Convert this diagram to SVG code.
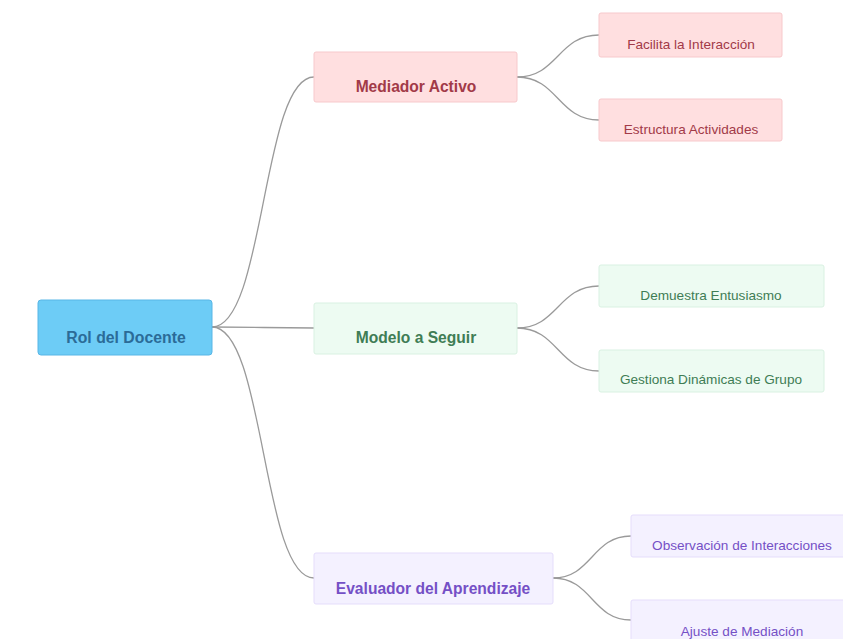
<svg xmlns="http://www.w3.org/2000/svg" width="843" height="639" viewBox="0 0 843 639">
<style>
.bg{fill:#ffffff}
.edge{fill:none;stroke:#9a9a9a;stroke-width:1.3}
.root rect{fill:#6dccf6;stroke:#58b6e6;stroke-width:1}
.root text{fill:#2b6b98;font:bold 15.8px "Liberation Sans",Arial,sans-serif;text-anchor:middle}
.red rect{fill:#ffdfe0;stroke:#f7c9cc;stroke-width:1}
.red text{fill:#a23a48;text-anchor:middle;font-family:"Liberation Sans",Arial,sans-serif}
.green rect{fill:#edfbf2;stroke:#d9f1e2;stroke-width:1}
.green text{fill:#3f7d55;text-anchor:middle;font-family:"Liberation Sans",Arial,sans-serif}
.purple rect{fill:#f4f1ff;stroke:#e5ddfb;stroke-width:1}
.purple text{fill:#7450c6;text-anchor:middle;font-family:"Liberation Sans",Arial,sans-serif}
.main text{font-size:15.6px;font-weight:bold}
.leaf text{font-size:13.6px}
</style>
<rect class="bg" x="0" y="0" width="843" height="639"/>
<g id="connectors">
<path class="edge" d="M212,327 C265,327 262,77 314,77"/>
<path class="edge" d="M212,327 C265,327 262,328 314,328"/>
<path class="edge" d="M212,327 C265,327 262,578 314,578"/>
<path class="edge" d="M517,77 C558,77 558,35 599,35"/>
<path class="edge" d="M517,77 C558,77 558,120 599,120"/>
<path class="edge" d="M517,328 C558,328 558,286 599,286"/>
<path class="edge" d="M517,328 C558,328 558,371 599,371"/>
<path class="edge" d="M553,578 C592,578 592,536 631,536"/>
<path class="edge" d="M553,578 C592,578 592,620 631,620"/>
</g>
<g id="root" class="root"><rect x="38" y="300" width="174" height="55" rx="3"/><text x="126" y="343">Rol del Docente</text></g>
<g id="mediador" class="red main"><rect x="314" y="52" width="203" height="50" rx="2"/><text x="416" y="92">Mediador Activo</text></g>
<g id="facilita" class="red leaf"><rect x="599" y="13" width="183" height="44" rx="2"/><text x="691" y="49">Facilita la Interacción</text></g>
<g id="estructura" class="red leaf"><rect x="599" y="99" width="183" height="42" rx="2"/><text x="691" y="134">Estructura Actividades</text></g>
<g id="modelo" class="green main"><rect x="314" y="303" width="203" height="51" rx="2"/><text x="416" y="343">Modelo a Seguir</text></g>
<g id="demuestra" class="green leaf"><rect x="599" y="265" width="225" height="42" rx="2"/><text x="711" y="300">Demuestra Entusiasmo</text></g>
<g id="gestiona" class="green leaf"><rect x="599" y="350" width="225" height="42" rx="2"/><text x="711" y="384">Gestiona Dinámicas de Grupo</text></g>
<g id="evaluador" class="purple main"><rect x="314" y="553" width="239" height="51" rx="2"/><text x="433" y="594">Evaluador del Aprendizaje</text></g>
<g id="observacion" class="purple leaf"><rect x="631" y="515" width="215" height="42" rx="2"/><text x="742" y="550">Observación de Interacciones</text></g>
<g id="ajuste" class="purple leaf"><rect x="631" y="600" width="215" height="42" rx="2"/><text x="742" y="636">Ajuste de Mediación</text></g>
</svg>
